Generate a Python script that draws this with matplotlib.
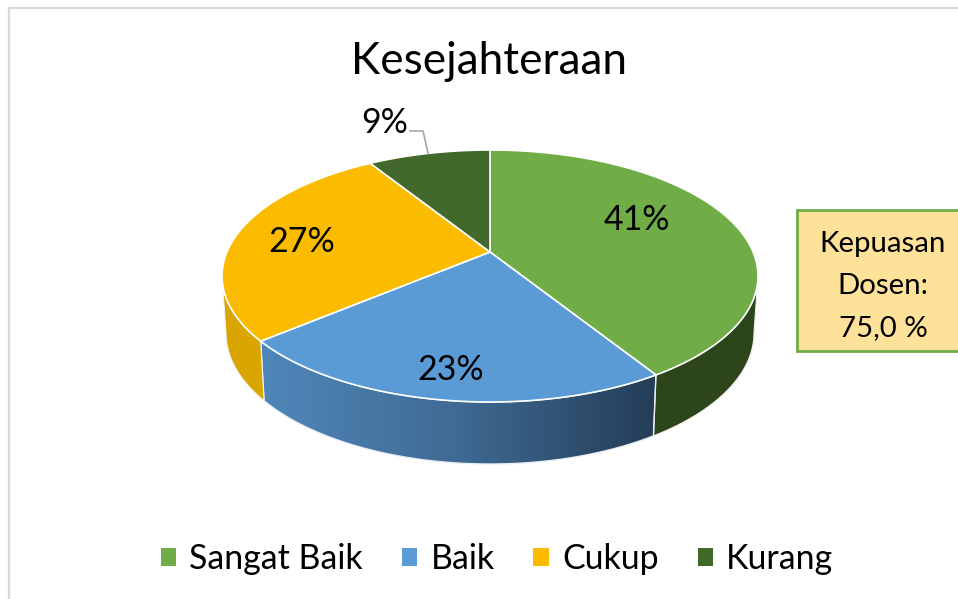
import numpy as np
import matplotlib
matplotlib.use("Agg")
import matplotlib.pyplot as plt
from matplotlib.patches import Polygon, Rectangle, Patch
from matplotlib.colors import LinearSegmentedColormap

plt.rcParams['font.family'] = ['Lato', 'DejaVu Sans']

title = "Kesejahteraan"
categories = ["Sangat Baik", "Baik", "Cukup", "Kurang"]
values = [41, 23, 27, 9]
top_colors = ["#70ad47", "#5b9bd5", "#fbbc00", "#43682b"]
wall_colors = ["#2d451b", None, "#dba500", "#2d451b"]
label_pos = [(637, 220), (451, 370), (302, 242), (385, 123)]
note_lines = ["Kepuasan", "Dosen:", "75,0 %"]

W, H = 958, 599
fig = plt.figure(figsize=(W / 100, H / 100), dpi=100, facecolor="white")
ax = fig.add_axes([0, 0, 1, 1])
ax.set_axis_off()

# ellipse geometry (pixels)
cx, cy, rx, ry = 490, 276, 268, 126
bcx, bcy, brx, bry = 490, 333, 264, 131
apex_h = 24 / 126


def ray_to_param(theta):
    """Perspective apex: ray at pie angle theta -> ellipse parameter."""
    d = np.array([np.sin(theta), np.cos(theta)])
    a = np.array([0.0, apex_h])
    ad = a @ d
    s = -ad + np.sqrt(ad ** 2 + 1 - a @ a)
    p = a + s * d
    return np.arctan2(p[0], p[1]) % (2 * np.pi)


def top(t):
    return np.c_[cx + rx * np.sin(t), cy - ry * np.cos(t)]


def bottom(t):
    return np.c_[bcx + brx * np.sin(t), bcy - bry * np.cos(t)]


apex = (cx, cy - apex_h * ry)
cum = np.cumsum([0] + values) / sum(values) * 2 * np.pi
params = [ray_to_param(c) for c in cum[:-1]] + [2 * np.pi]

cmap = LinearSegmentedColormap.from_list("wall", ["#4f87ba", "#3f6a93", "#243d57"])

# walls
for i in range(len(values)):
    a, b = params[i], params[i + 1]
    lo, hi = max(a, np.pi / 2), min(b, 3 * np.pi / 2)
    if lo >= hi:
        continue
    t = np.linspace(lo, hi, 120)
    pts = np.vstack([top(t), bottom(t)[::-1]])
    if wall_colors[i] is None:
        poly = Polygon(pts, closed=True, facecolor="none", edgecolor="none", zorder=2)
        ax.add_patch(poly)
        im = ax.imshow(np.linspace(0, 1, 256)[None, :], cmap=cmap, aspect="auto",
                       extent=(pts[:, 0].min(), pts[:, 0].max(), pts[:, 1].max(), pts[:, 1].min()),
                       zorder=2)
        im.set_clip_path(poly)
        ax.add_patch(Polygon(pts, closed=True, facecolor="none", edgecolor="#e8eef4", lw=1.0, zorder=3))
    else:
        ax.add_patch(Polygon(pts, closed=True, facecolor=wall_colors[i], edgecolor="#f2f2f2", lw=0.8, zorder=3))

# top faces
for i in range(len(values)):
    t = np.linspace(params[i], params[i + 1], 200)
    pts = np.vstack([[apex], top(t)])
    ax.add_patch(Polygon(pts, closed=True, facecolor=top_colors[i], edgecolor="white",
                         lw=1.2, joinstyle="round", zorder=4))

# data labels
for v, (x, y) in zip(values, label_pos):
    ax.text(x, y, f"{v}%", fontsize=24.5, ha="center", va="center", color="black", zorder=6)
ax.plot([410, 423, 428], [131, 131, 153], color="#a6a6a6", lw=1.2, zorder=5)

# chart frame
ax.plot([9, 9, W], [H, 8, 8], color="#d9d9d9", lw=1.6, zorder=1)

# title
ax.text(489, 62, title, fontsize=31.8, ha="center", va="center", color="black")

# note box
ax.add_patch(Rectangle((797, 210), 170, 141, facecolor="#ffe299", edgecolor="#70ad47", lw=2, zorder=5))
for line, y in zip(note_lines, [244, 286, 328]):
    ax.text(883, y, line, fontsize=21.2, ha="center", va="center", color="black", zorder=6)

# legend
handles = [Patch(facecolor=c, edgecolor="none", label=n) for c, n in zip(top_colors, categories)]
ax.legend(handles=handles, ncol=4, frameon=False, fontsize=24.4, loc="center",
          bbox_to_anchor=(497 / W, 1 - 559 / H), handlelength=0.45, handleheight=0.45,
          handletextpad=0.39, columnspacing=1.15, borderaxespad=0, borderpad=0)

ax.set_xlim(0, W)
ax.set_ylim(H, 0)
fig.savefig("out.png", dpi=100, facecolor="white")
